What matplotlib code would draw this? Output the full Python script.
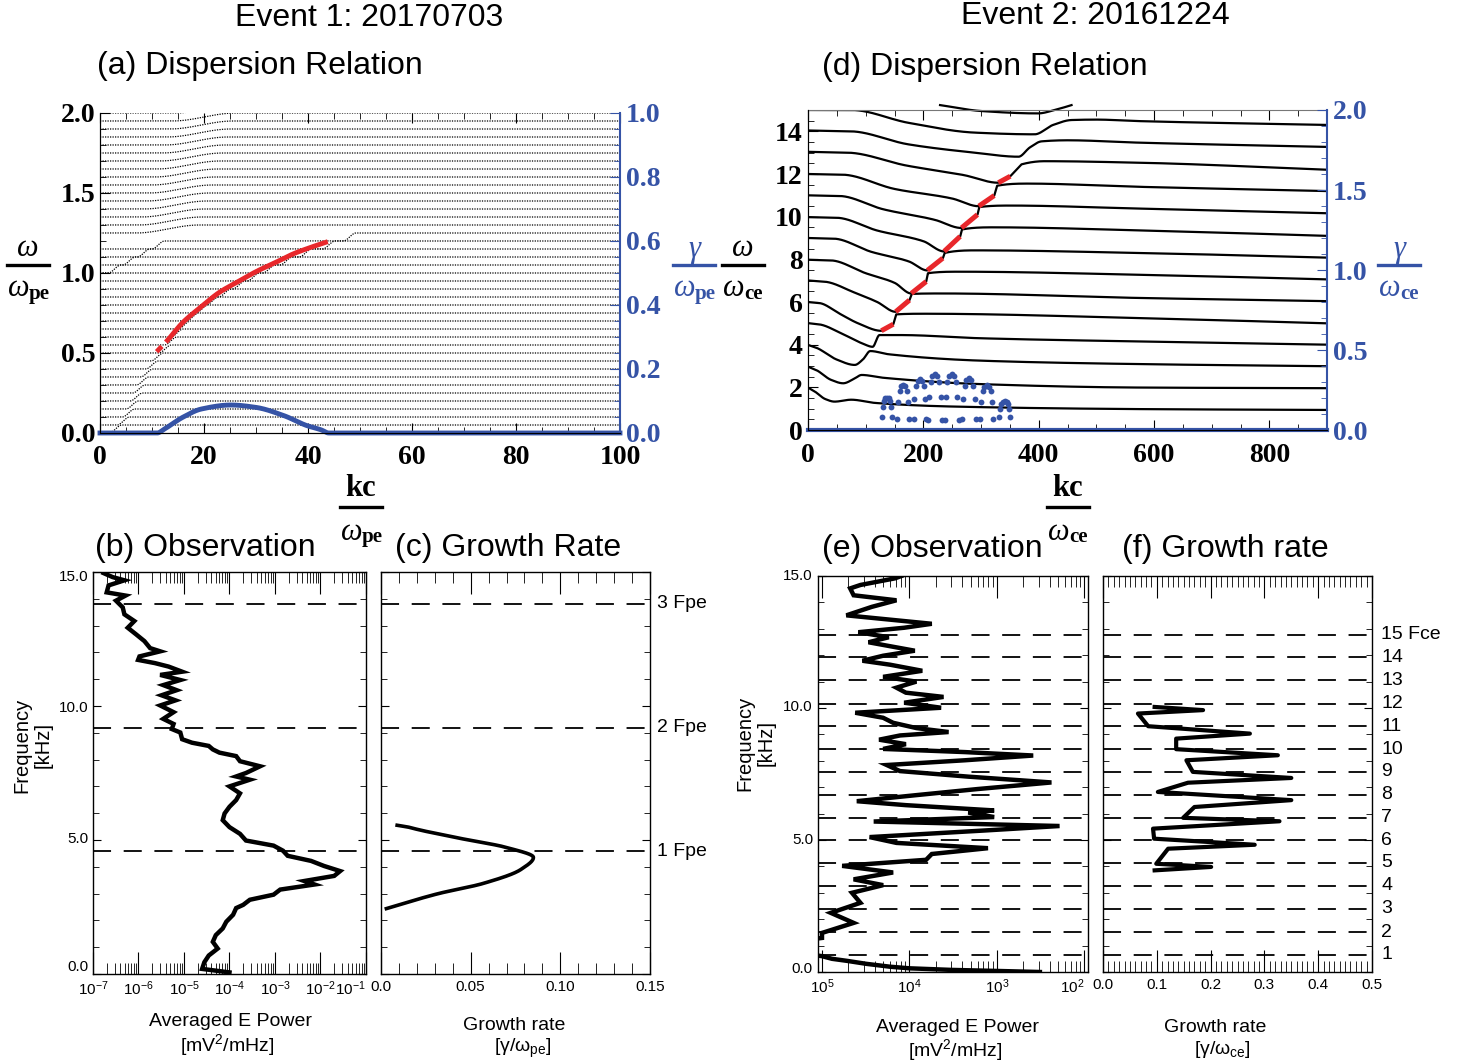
import numpy as np
import matplotlib
matplotlib.use('Agg')
import matplotlib.pyplot as plt
from matplotlib.lines import Line2D
from matplotlib import font_manager
from matplotlib.ticker import MultipleLocator, LogLocator, NullFormatter
import matplotlib.transforms as mtrans

# ======================= DATA =======================
# ---- (a) dispersion relation, event 1 ----
a_levels = [0.05, 0.10, 0.15, 0.20, 0.25, 0.30, 0.35, 0.40, 0.45, 0.50,
            0.55, 0.60, 0.65, 0.70, 0.75, 0.80, 0.85, 0.90, 0.95, 1.00,
            1.05, 1.10, 1.15, 1.20, 1.25, 1.30, 1.35, 1.40, 1.45, 1.50,
            1.55, 1.60, 1.65, 1.70, 1.75, 1.80, 1.85, 1.90, 1.95, 2.00, 2.05]
a_kink = [3.0, 4.5, 5.5, 6.2, 7.0, 7.5, 8.2, 9.0, 10.0, 11.0,
          12.5, 13.6, 14.8, 16.2, 17.8, 19.6, 21.6, 24.0, 26.7, 29.5,
          32.5, 35.8, 39.5, 44.0, 48.0, 13.0, 13.5, 14.0, 14.5, 15.0,
          15.5, 16.0, 16.5, 17.0, 17.5, 18.0, 18.5, 19.0, 19.5, 20.0, 20.5]
a_branch = [None] * 21 + [2.8, 5.6, 8.4, 11.2] + [None] * 16
a_red_k = [10.9, 13.0, 15.9, 19.5, 23.0, 26.5, 30.1, 33.7, 37.2, 40.5, 43.8]
a_red_w = [0.508, 0.58, 0.69, 0.79, 0.88, 0.945, 1.01, 1.065, 1.12, 1.16, 1.196]
a_gam_k = [0, 11.0, 12.4, 15.9, 19.5, 25.2, 30.0, 35.4, 39.8, 42.5, 44.0, 100]
a_gam = [0, 0, 0.0125, 0.049, 0.075, 0.0875, 0.08, 0.054, 0.023, 0.01, 0, 0]

# ---- (d) dispersion relation, event 2 ----
d_line_k = [
    [0, 12, 30, 46, 75, 116, 250, 573, 900],
    [0, 15, 40, 61, 80, 93, 130, 300, 573, 900],
    [0, 15, 50, 81, 95, 108, 140, 300, 573, 900],
    [0, 20, 60, 95, 112, 124, 160, 300, 573, 900],
    [0, 20, 55, 87, 127, 148, 153, 200, 573, 900],
    [0, 30, 80, 120, 152, 176, 180, 230, 573, 900],
    [0, 40, 100, 150, 179, 205, 208, 260, 573, 900],
    [0, 45, 110, 175, 207, 234, 237, 290, 573, 900],
    [0, 50, 120, 200, 236, 264, 267, 320, 573, 900],
    [0, 55, 130, 220, 266, 294, 297, 350, 573, 900],
    [0, 60, 150, 250, 296, 323, 328, 380, 573, 900],
    [0, 70, 170, 270, 330, 351, 370, 410, 573, 900],
    [0, 75, 174, 289, 365, 385, 405, 450, 573, 900],
    [0, 75, 174, 289, 393, 425, 457, 500, 573, 900],
]
d_line_w = [
    [1.99, 1.8, 1.45, 1.33, 1.42, 1.27, 1.1, 0.98, 0.94],
    [2.97, 2.8, 2.35, 2.19, 2.4, 2.58, 2.45, 2.15, 1.99, 1.96],
    [3.99, 3.85, 3.3, 3.05, 3.3, 3.7, 3.55, 3.25, 3.09, 2.99],
    [5.01, 4.95, 4.5, 4.05, 3.9, 4.45, 4.45, 4.3, 4.15, 4.0],
    [6.0, 5.95, 5.45, 5.0, 4.65, 4.96, 5.42, 5.45, 5.25, 5.0],
    [7.01, 6.95, 6.45, 6.0, 5.54, 6.09, 6.38, 6.4, 6.19, 6.04],
    [7.98, 7.95, 7.35, 6.9, 6.4, 6.96, 7.35, 7.42, 7.28, 7.06],
    [9.0, 8.97, 8.35, 7.9, 7.48, 8.06, 8.3, 8.42, 8.3, 8.08],
    [9.98, 9.95, 9.35, 8.85, 8.37, 9.08, 9.4, 9.5, 9.36, 9.1],
    [11.0, 10.97, 10.35, 9.85, 9.47, 10.1, 10.45, 10.52, 10.38, 10.16],
    [12.0, 11.97, 11.3, 10.85, 10.49, 10.99, 11.45, 11.55, 11.4, 11.2],
    [13.04, 13.0, 12.4, 11.95, 11.59, 11.9, 12.45, 12.6, 12.53, 12.2],
    [14.04, 14.0, 13.39, 13.0, 12.81, 13.25, 13.53, 13.58, 13.47, 13.27],
    [15.0, 15.0, 14.4, 13.94, 13.86, 14.3, 14.53, 14.55, 14.48, 14.3],
]
d_has_red = [False, False, False, False, True, True, True, True, True, True, True, True, False, False]
d_top_k = [229, 301, 399, 428, 457]
d_top_w = [15.23, 14.95, 14.84, 15.0, 15.23]
d_arch_c = [137, 165, 194, 220, 249, 279, 310, 341]
d_arch_peak = [0.203, 0.283, 0.32, 0.35, 0.35, 0.325, 0.28, 0.182]
d_arch_hw = [8, 10, 11, 12, 12, 12, 11, 9]
d_arch_base = 0.09
d_arch_off = [-1.0, -0.85, -0.62, -0.36, 0.0, 0.36, 0.62, 0.85, 1.0]
d_arch_frac = [-0.1, 0.45, 0.8, 0.95, 1.0, 0.95, 0.8, 0.45, -0.1]

# ---- (b) observation, event 1 ----
b_freq = [14.96, 14.81, 14.69, 14.50, 14.24, 14.12, 13.93, 13.68, 13.42, 13.17,
          12.92, 12.67, 12.42, 12.16, 12.04, 11.85, 11.72, 11.60, 11.47, 11.28,
          11.16, 10.97, 10.78, 10.59, 10.40, 10.21, 10.02, 9.77, 9.52, 9.33,
          9.14, 9.01, 8.76, 8.63, 8.51, 8.38, 8.26, 8.13, 7.94, 7.75,
          7.50, 7.37, 7.25, 7.00, 6.74, 6.49, 6.24, 5.99, 5.74, 5.48,
          5.23, 4.98, 4.79, 4.60, 4.41, 4.22, 4.03, 3.84, 3.66, 3.47,
          3.34, 3.15, 2.96, 2.77, 2.58, 2.46, 2.21, 1.95, 1.70, 1.45,
          1.20, 0.95, 0.69, 0.44, 0.19, 0.06]
b_pow = [1.7e-7, 2.7e-7, 4.9e-7, 2.2e-7, 2.0e-7, 5.2e-7, 3.2e-7, 4.5e-7, 4.9e-7, 8.1e-7,
         5.8e-7, 8.9e-7, 1.35e-6, 1.8e-6, 3.0e-6, 1.05e-6, 9.8e-7, 2.3e-6, 4.6e-6, 9.1e-6,
         3.0e-6, 8.3e-6, 3.5e-6, 6.9e-6, 3.2e-6, 6.5e-6, 3.0e-6, 5.9e-6, 3.5e-6, 5.9e-6,
         5.4e-6, 8.3e-6, 9.1e-6, 1.5e-5, 3.5e-5, 4.3e-5, 6.0e-5, 1.4e-4, 1.7e-4, 4.7e-4,
         2.3e-4, 1.4e-4, 2.8e-4, 1.0e-4, 1.7e-4, 1.4e-4, 1.0e-4, 7.8e-5, 7.1e-5, 1.0e-4,
         1.7e-4, 2.3e-4, 9.3e-4, 1.5e-3, 1.9e-3, 6.2e-3, 1.2e-2, 2.7e-2, 2.0e-2, 4.4e-3,
         7.4e-3, 1.3e-3, 9.3e-4, 2.8e-4, 2.0e-4, 1.4e-4, 1.2e-4, 8.5e-5, 7.1e-5, 5.0e-5,
         4.3e-5, 5.5e-5, 3.5e-5, 2.8e-5, 2.5e-5, 1.0e-4]
b_fpe = [4.58, 9.19, 13.82]

# ---- (c) growth rate, event 1 ----
c_freq = [2.44, 2.78, 3.0, 3.38, 3.9, 4.35, 4.72, 5.05, 5.4, 5.47, 5.55]
c_gr = [0.003, 0.02, 0.032, 0.057, 0.078, 0.085, 0.07, 0.045, 0.02, 0.016, 0.009]

# ---- (e) observation, event 2 ----
e_freq = [15.0, 14.91, 14.66, 14.53, 14.27, 14.08, 13.83, 13.51, 13.19, 13.04,
          12.87, 12.68, 12.49, 12.17, 11.98, 11.79, 11.64, 11.41, 11.18, 11.0,
          10.77, 10.58, 10.42, 10.2, 10.01, 9.82, 9.63, 9.44, 9.24, 9.09,
          8.96, 8.80, 8.63, 8.45, 8.33, 8.20, 8.02, 7.84, 7.61, 7.40,
          7.18, 6.93, 6.70, 6.47, 6.32, 6.12, 6.04, 5.87, 5.70, 5.53,
          5.36, 5.11, 4.89, 4.69, 4.47, 4.25, 4.02, 3.77, 3.51, 3.29,
          3.0, 2.62, 2.24, 1.86, 1.48, 1.29, 1.2, 0.7, 0.6, 0.5,
          0.42, 0.31, 0.2, 0.14, 0.08, 0.04, 0.0]
e_pow = [8.1e-5, 6.8e-5, 2.75e-5, 2.1e-5, 2.3e-5, 7.1e-5, 3.7e-5, 1.9e-5, 1.8e-4, 8.7e-5,
         2.6e-5, 5.8e-5, 3.4e-5, 1.15e-4, 5.0e-5, 2.9e-5, 6.0e-5, 1.4e-4, 5.0e-5, 1.2e-4,
         7.1e-5, 9.1e-5, 2.45e-4, 8.7e-5, 2.3e-4, 2.4e-5, 5.0e-5, 6.5e-5, 1.2e-4, 2.8e-4,
         7.8e-5, 4.5e-5, 9.1e-5, 5.0e-5, 4.3e-4, 2.6e-3, 4.3e-4, 5.5e-5, 7.8e-5, 4.7e-4,
         4.2e-3, 6.0e-4, 1.2e-4, 2.5e-5, 9.1e-5, 9.3e-4, 4.7e-4, 9.3e-4, 3.9e-5, 5.2e-3,
         7.2e-4, 3.5e-5, 7.1e-5, 7.9e-4, 1.8e-4, 1.55e-4, 1.7e-5, 6.5e-5, 2.3e-5, 5.0e-5,
         2.2e-5, 2.75e-5, 1.26e-5, 2.3e-5, 1.0e-5, 1.0e-5, 6.0e-6, 6.0e-6, 1.0e-5, 1.3e-5,
         1.95e-5, 3.2e-5, 6.0e-5, 1.0e-4, 3.0e-4, 1.0e-3, 3.1e-3]
e_fce = [0.65, 1.515, 2.39, 3.26, 4.13, 4.99, 5.84, 6.71, 7.59, 8.44,
         9.31, 10.17, 11.05, 11.92, 12.78]
e_fce_labels = ['1', '2', '3', '4', '5', '6', '7', '8', '9', '10',
                '11', '12', '13', '14', '15 Fce']

# ---- (f) growth rate, event 2 ----
f_gr = [0.096, 0.186, 0.065, 0.084, 0.273, 0.136, 0.136, 0.325, 0.155, 0.167,
        0.35, 0.158, 0.102, 0.35, 0.170, 0.149, 0.328, 0.093, 0.095, 0.282,
        0.121, 0.099, 0.201, 0.096]
f_freq = [10.04, 9.92, 9.79, 9.31, 9.03, 8.84, 8.44, 8.21, 8.02, 7.58,
          7.35, 7.17, 6.82, 6.51, 6.25, 5.84, 5.71, 5.43, 5.05, 4.82,
          4.67, 4.10, 3.98, 3.85]

# tick labels
b_xtick_labels = ['10$^{-7}$', '10$^{-6}$', '10$^{-5}$', '10$^{-4}$', '10$^{-3}$', '10$^{-2}$', '10$^{-1}$']
e_xtick_labels = ['10$^{5}$', '10$^{4}$', '10$^{3}$', '10$^{2}$']
low_ytick_labels = ['0.0', '5.0', '10.0', '15.0']

# ======================= STYLE =======================
names = {f.name for f in font_manager.fontManager.ttflist}
NARROW = 'Liberation Sans Narrow' if 'Liberation Sans Narrow' in names else 'Liberation Sans'
SANS = 'Liberation Sans'
SERIF = 'Liberation Serif'
plt.rcParams['font.family'] = [NARROW, 'DejaVu Sans']
plt.rcParams['mathtext.fontset'] = 'custom'
plt.rcParams['mathtext.rm'] = NARROW
plt.rcParams['mathtext.it'] = NARROW + ':italic'
plt.rcParams['mathtext.bf'] = NARROW + ':bold'
plt.rcParams['mathtext.default'] = 'regular'

BLUE = '#3553a6'
RED = '#e8272b'

W, H = 1466, 1061
fig = plt.figure(figsize=(W / 100, H / 100), dpi=100)


def axes_px(l, t, r, b):
    return fig.add_axes([l / W, 1 - b / H, (r - l) / W, (b - t) / H])


def ftext(x, y, s, **kw):
    fig.text(x / W, 1 - y / H, s, **kw)


def fline(x0, x1, y, color, lw=2.0):
    fig.add_artist(Line2D([x0 / W, x1 / W], [1 - y / H] * 2, color=color, lw=lw,
                          transform=fig.transFigure))


def pchip(x, y, xn):
    x = np.asarray(x, float)
    y = np.asarray(y, float)
    xn = np.asarray(xn, float)
    h = np.diff(x)
    d = np.diff(y) / h
    n = len(x)
    m = np.zeros(n)
    for i in range(1, n - 1):
        if d[i - 1] * d[i] > 0:
            w1 = 2 * h[i] + h[i - 1]
            w2 = h[i] + 2 * h[i - 1]
            m[i] = (w1 + w2) / (w1 / d[i - 1] + w2 / d[i])
    m[0] = d[0]
    m[-1] = d[-1]
    idx = np.clip(np.searchsorted(x, xn, side='right') - 1, 0, n - 2)
    t = (xn - x[idx]) / h[idx]
    hh = h[idx]
    h00 = 2 * t ** 3 - 3 * t ** 2 + 1
    h10 = t ** 3 - 2 * t ** 2 + t
    h01 = -2 * t ** 3 + 3 * t ** 2
    h11 = t ** 3 - t ** 2
    return h00 * y[idx] + h10 * hh * m[idx] + h01 * y[idx + 1] + h11 * hh * m[idx + 1]


def smoothstep(z):
    z = np.clip(z, 0, 1)
    return z * z * (3 - 2 * z)


def frac(xc, yn, yb, yd, num, sub, color, numweight='normal', numstyle='italic', halfw=21):
    ftext(xc, yn, num, ha='center', va='center', family=SERIF, style=numstyle,
          weight=numweight, fontsize=22, color=color)
    fline(xc - halfw, xc + halfw, yb, color, lw=2.4)
    ftext(xc + 1, yd, '\u03c9', ha='right', va='center', family=SERIF, style='italic',
          fontsize=22, color=color)
    ftext(xc + 1, yd + 5, sub, ha='left', va='center', family=SERIF, weight='bold',
          fontsize=15, color=color)


serif_tick = dict(fontfamily=SERIF, fontweight='bold', fontsize=20)

# ======================= PANEL (a) =======================
axa = axes_px(100, 113, 620, 433)
kk = np.linspace(0, 100, 1500)
for h, k1, k2 in zip(a_levels, a_kink, a_branch):
    w1 = 1.2 if h < 1.28 else 6.0
    y = h - 0.05 * (1 - smoothstep((kk - k1 + w1) / (2 * w1)))
    if k2 is not None:
        y = y - 0.05 * (1 - smoothstep((kk - k2 + 1.2) / 2.4))
    axa.plot(kk, y, color='k', lw=0.9, ls=(0, (1, 1)))
rk = np.linspace(a_red_k[0], a_red_k[-1], 300)
rw = pchip(a_red_k, a_red_w, rk)
axa.plot(rk[rk < 12.0], rw[rk < 12.0], color=RED, lw=3.5, solid_capstyle='butt')
axa.plot(rk[rk > 12.6], rw[rk > 12.6], color=RED, lw=3.5, solid_capstyle='butt')
axa.set_xlim(0, 100)
axa.set_ylim(0, 2.0)
axa.spines['top'].set_visible(False)
axa.spines['right'].set_visible(False)
axa.set_xticks([0, 20, 40, 60, 80, 100], ['0', '20', '40', '60', '80', '100'], **serif_tick)
axa.set_yticks([0, 0.5, 1.0, 1.5, 2.0], ['0.0', '0.5', '1.0', '1.5', '2.0'], **serif_tick)
axa.xaxis.set_minor_locator(MultipleLocator(5))
axa.yaxis.set_minor_locator(MultipleLocator(0.1))
axa.tick_params(which='major', direction='in', length=7, top=True, right=False)
axa.tick_params(which='minor', direction='in', length=4, top=True, right=False)
axa.tick_params(axis='x', pad=9)
axa.tick_params(axis='y', pad=3)
axr = axa.twinx()
gk = np.linspace(0, 100, 1000)
axr.plot(gk, pchip(a_gam_k, a_gam, gk), color=BLUE, lw=3.5, clip_on=False)
axr.set_ylim(0, 1.0)
axr.spines['right'].set_color(BLUE)
axr.spines['right'].set_linewidth(1.5)
axr.spines['top'].set_visible(False)
axr.set_yticks([0, 0.2, 0.4, 0.6, 0.8, 1.0], ['0.0', '0.2', '0.4', '0.6', '0.8', '1.0'],
               **serif_tick)
axr.yaxis.set_minor_locator(MultipleLocator(0.05))
axr.tick_params(which='both', direction='in', colors=BLUE, pad=4)
axr.tick_params(which='major', length=7)
axr.tick_params(which='minor', length=4)

# ======================= PANEL (d) =======================
axd = axes_px(808, 110, 1327, 430)
kd = np.linspace(0, 900, 3000)
for ks, ws, red in zip(d_line_k, d_line_w, d_has_red):
    yy = pchip(ks, ws, kd)
    if red:
        m = (kd >= ks[4]) & (kd <= ks[6])
        yy[m] = np.interp(kd[m], ks[4:7], ws[4:7])
    axd.plot(kd, yy, color='k', lw=1.6)
    if red:
        m = (kd >= ks[4]) & (kd <= ks[5])
        axd.plot(kd[m], yy[m], color=RED, lw=3.6, solid_capstyle='butt')
kt = np.linspace(d_top_k[0], d_top_k[-1], 300)
axd.plot(kt, pchip(d_top_k, d_top_w, kt), color='k', lw=1.6, clip_on=False)
axd.set_xlim(0, 900)
axd.set_ylim(0, 15)
axd.spines['right'].set_visible(False)
axd.spines['top'].set_color('#777777')
axd.set_xticks([0, 200, 400, 600, 800], ['0', '200', '400', '600', '800'], **serif_tick)
axd.set_yticks(list(range(0, 15, 2)), [str(v) for v in range(0, 15, 2)], **serif_tick)
axd.xaxis.set_minor_locator(MultipleLocator(50))
axd.yaxis.set_minor_locator(MultipleLocator(0.5))
axd.tick_params(which='major', direction='in', length=7, top=True, right=False)
axd.tick_params(which='minor', direction='in', length=4, top=True, right=False)
axd.tick_params(axis='x', pad=9)
axd.tick_params(axis='y', pad=4)
axdr = axd.twinx()
axdr.plot([0, 900], [0, 0], color=BLUE, lw=3.0, clip_on=False)
for c, p, hw in zip(d_arch_c, d_arch_peak, d_arch_hw):
    ak = [c + o * hw for o in d_arch_off]
    ag = [d_arch_base + f * (p - d_arch_base) for f in d_arch_frac]
    axdr.plot(ak, ag, 'o', color=BLUE, ms=4.2, mec='none')
axdr.set_ylim(0, 2.0)
axdr.spines['right'].set_color(BLUE)
axdr.spines['right'].set_linewidth(1.5)
axdr.spines['top'].set_visible(False)
axdr.set_yticks([0, 0.5, 1.0, 1.5, 2.0], ['0.0', '0.5', '1.0', '1.5', '2.0'], **serif_tick)
axdr.yaxis.set_minor_locator(MultipleLocator(0.1))
axdr.tick_params(which='both', direction='in', colors=BLUE, pad=4)
axdr.tick_params(which='major', length=7)
axdr.tick_params(which='minor', length=4)

# fraction labels
frac(28, 248, 265, 289, '\u03c9', 'pe', 'k')
frac(694, 249, 265, 289, '\u03b3', 'pe', BLUE)
frac(361, 489, 507, 532, 'kc', 'pe', 'k', numweight='bold', numstyle='normal')
frac(743, 248, 265, 289, '\u03c9', 'ce', 'k')
frac(1399, 249, 265, 289, '\u03b3', 'ce', BLUE)
frac(1068, 488, 507, 532, 'kc', 'ce', 'k', numweight='bold', numstyle='normal')

# ======================= LOWER PANELS =======================
small = dict(fontsize=11)
dash = (0, (10, 7))


def lower_common(ax):
    ax.set_ylim(0, 15)
    ax.set_yticks([0, 5, 10, 15], ['', '', '', ''])
    ax.yaxis.set_minor_locator(MultipleLocator(1))
    ax.tick_params(axis='y', which='major', direction='in', length=6, left=True, right=True)
    ax.tick_params(axis='y', which='minor', direction='in', length=4, left=True, right=True)
    for s in ax.spines.values():
        s.set_linewidth(1.0)


def x_ticks(ax, ticks, labels, last_right=False):
    ax.set_xticks(ticks, labels, **small)
    ax.tick_params(axis='x', which='major', direction='in', length=16, top=True, bottom=True, pad=4)
    ax.tick_params(axis='x', which='minor', direction='in', length=8, top=True, bottom=True)
    if last_right:
        ax.get_xticklabels()[-1].set_horizontalalignment('right')


# (b)
axb = axes_px(93, 572, 366, 974)
axb.set_xscale('log')
axb.set_xlim(1e-7, 1e-1)
lower_common(axb)
for f in b_fpe:
    axb.axhline(f, color='k', lw=1.3, ls=dash)
axb.plot(b_pow, b_freq, color='k', lw=3.2, solid_joinstyle='miter')
axb.xaxis.set_minor_locator(LogLocator(base=10, subs=np.arange(2, 10), numticks=20))
axb.xaxis.set_minor_formatter(NullFormatter())
x_ticks(axb, [1e-7, 1e-6, 1e-5, 1e-4, 1e-3, 1e-2, 1e-1], b_xtick_labels, last_right=True)
for lab, y in zip(low_ytick_labels, [967, 839, 708, 577]):
    ftext(88, y, lab, ha='right', va='center', **small)

# (c)
axc = axes_px(381, 572, 650, 974)
axc.set_xlim(0, 0.15)
lower_common(axc)
for f in b_fpe:
    axc.axhline(f, color='k', lw=1.3, ls=dash)
cf = np.linspace(c_freq[0], c_freq[-1], 300)
axc.plot(pchip(c_freq, c_gr, cf), cf, color='k', lw=2.6)
axc.xaxis.set_minor_locator(MultipleLocator(0.01))
x_ticks(axc, [0, 0.05, 0.10, 0.15], ['0.0', '0.05', '0.10', '0.15'])
tc = mtrans.blended_transform_factory(axc.transAxes, axc.transData)
for i, f in enumerate(b_fpe):
    axc.text(1.026, f, '%d Fpe' % (i + 1), transform=tc, ha='left', va='center', fontsize=14)

# (e)
axe = axes_px(818, 576, 1088, 972)
axe.set_xscale('log')
axe.set_xlim(9.0e-6, 1.1e-2)
lower_common(axe)
for f in e_fce:
    axe.axhline(f, color='k', lw=1.3, ls=dash)
axe.plot(e_pow, e_freq, color='k', lw=3.2, solid_joinstyle='miter')
axe.xaxis.set_minor_locator(LogLocator(base=10, subs=np.arange(2, 10), numticks=20))
axe.xaxis.set_minor_formatter(NullFormatter())
x_ticks(axe, [1e-5, 1e-4, 1e-3, 1e-2], e_xtick_labels, last_right=True)
for lab, y in zip(low_ytick_labels, [969, 840, 707, 576]):
    ftext(813, y, lab, ha='right', va='center', **small)

# (f)
axf = axes_px(1103, 576, 1372, 972)
axf.set_xlim(0, 0.5)
lower_common(axf)
for f in e_fce:
    axf.axhline(f, color='k', lw=1.3, ls=dash)
axf.plot(f_gr, f_freq, color='k', lw=3.0, solid_joinstyle='round')
axf.xaxis.set_minor_locator(MultipleLocator(0.01))
x_ticks(axf, [0, 0.1, 0.2, 0.3, 0.4, 0.5], ['0.0', '0.1', '0.2', '0.3', '0.4', '0.5'])
tf = mtrans.blended_transform_factory(axf.transAxes, axf.transData)
for f, lab in zip(e_fce, e_fce_labels):
    axf.text(1.035, f, lab, transform=tf, ha='left', va='center', fontsize=14)

# ======================= TEXTS =======================
title_kw = dict(family=SANS, fontsize=23, va='center')
ftext(369, 18, 'Event 1: 20170703', ha='center', **title_kw)
ftext(1095, 16, 'Event 2: 20161224', ha='center', **title_kw)
ftext(97, 66, '(a) Dispersion Relation', ha='left', **title_kw)
ftext(822, 67, '(d) Dispersion Relation', ha='left', **title_kw)
ftext(95, 548, '(b) Observation', ha='left', **title_kw)
ftext(395, 548, '(c) Growth Rate', ha='left', **title_kw)
ftext(822, 549, '(e) Observation', ha='left', **title_kw)
ftext(1122, 549, '(f) Growth rate', ha='left', **title_kw)

lab_kw = dict(fontsize=14.5, ha='center', va='center')
ftext(22, 745, 'Frequency', rotation=90, **lab_kw)
ftext(43, 745, '[kHz]', rotation=90, **lab_kw)
ftext(745, 743, 'Frequency', rotation=90, **lab_kw)
ftext(766, 743, '[kHz]', rotation=90, **lab_kw)
lab_kw['fontsize'] = 14
ftext(231, 1022, 'Averaged E Power', **lab_kw)
ftext(227, 1045, '[mV$^{2}$/mHz]', **lab_kw)
ftext(958, 1027, 'Averaged E Power', **lab_kw)
ftext(955, 1050, '[mV$^{2}$/mHz]', **lab_kw)
ftext(514, 1025, 'Growth rate', **lab_kw)
ftext(523, 1048, '[$\\gamma$/$\\omega_{pe}$]', **lab_kw)
ftext(1215, 1027, 'Growth rate', **lab_kw)
ftext(1222, 1050, '[$\\gamma$/$\\omega_{ce}$]', **lab_kw)

fig.savefig('out.png', dpi=100)
